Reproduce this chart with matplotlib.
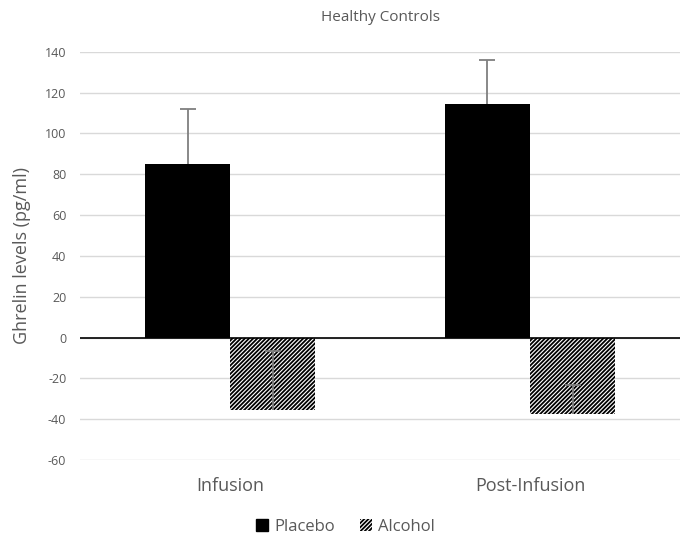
import numpy as np
import matplotlib
matplotlib.use("Agg")
import matplotlib.pyplot as plt
from matplotlib.patches import Patch

categories = ["Infusion", "Post-Infusion"]
placebo = [85, 114.5]
placebo_err = [27, 21.5]
alcohol = [-35.3, -37.3]
alcohol_err = [28.5, 13.8]

text_gray = "#595959"
err_gray = "#7f7f7f"
plt.rcParams["font.family"] = ["Open Sans", "DejaVu Sans"]
plt.rcParams["hatch.linewidth"] = 1.3
plt.rcParams["axes.unicode_minus"] = False

fig = plt.figure(figsize=(6.91, 5.45), dpi=100)
ax = fig.add_axes([0.116, 0.156, 0.868, 0.749])

x = np.arange(len(categories))
w = 0.284
ax.bar(x - w / 2, placebo, width=w, color="black", zorder=2)
ax.bar(x + w / 2, alcohol, width=w, color="white", edgecolor="black",
       hatch="////////", linewidth=0, zorder=2)

# error bars only in the plus direction, cap only at the far end
for xs, vals, errs in [(x - w / 2, placebo, placebo_err), (x + w / 2, alcohol, alcohol_err)]:
    ends = np.array(vals) + np.array(errs)
    ax.vlines(xs, vals, ends, color=err_gray, linewidth=1.3, zorder=3)
    ax.plot(xs, ends, linestyle="none", marker="_", markersize=12,
            markeredgewidth=1.3, color=err_gray, zorder=3)

ax.axhline(0, color="black", linewidth=1.2, zorder=4)
ax.set_ylim(-60, 140)
ax.set_xlim(-0.5, 1.5)
ax.set_yticks(range(-60, 141, 20))
ax.yaxis.grid(True, color="#d9d9d9", linewidth=1)
ax.set_axisbelow(True)
for s in ax.spines.values():
    s.set_visible(False)
ax.tick_params(axis="both", length=0, colors=text_gray)
ax.tick_params(axis="y", labelsize=9, pad=10)
ax.tick_params(axis="x", labelsize=13, pad=12)
ax.set_xticks(x)
ax.set_xticklabels(categories)
ax.set_ylabel("Ghrelin levels (pg/ml)", fontsize=13, color=text_gray, labelpad=10)
ax.set_title("Healthy Controls", fontsize=11, color=text_gray, pad=22)

handles = [Patch(facecolor="black", edgecolor="black"),
           Patch(facecolor="white", edgecolor="black", hatch="////////", linewidth=0)]
fig.legend(handles, ["Placebo", "Alcohol"], loc="center", bbox_to_anchor=(0.5, 0.033),
           ncol=2, frameon=False, fontsize=12, labelcolor=text_gray,
           handlelength=0.7, handleheight=0.7, handletextpad=0.4, columnspacing=1.5)

fig.savefig("out.png", dpi=100)
